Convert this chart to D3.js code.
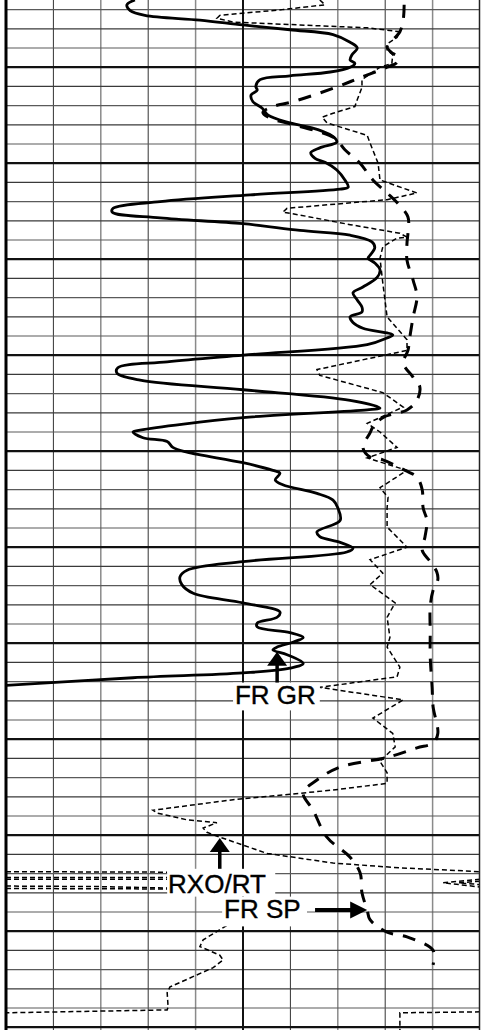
<!DOCTYPE html>
<html>
<head>
<meta charset="utf-8">
<script src="https://cdn.jsdelivr.net/npm/d3@7"></script>
<style>
  html, body { margin: 0; padding: 0; background: #fff; overflow: hidden; }
</style>
</head>
<body>
<div id="chart"></div>
<script>
// log track: depth in ft, curve values in chart divisions (0-10)
const topDepth = 4993;
const gridDepths = d3.range(4994, 5101, 2);
const gridDivs = d3.range(1, 10);
const darkDivs = [1, 3, 6, 8];

// gamma ray (solid)
const grCurve = [
  [4993.0,2.72],[4993.5,2.55],[4994.1,2.62],[4994.6,2.93],[4995.1,4.09],[4995.6,5.00],
  [4996.1,5.99],[4996.6,6.90],[4997.4,7.26],[4998.0,7.41],[4998.7,7.30],[4999.25,7.26],
  [4999.6,7.36],[5000.0,7.26],[5000.5,6.84],[5000.9,5.99],[5001.3,5.36],[5002.0,5.27],
  [5002.4,5.30],[5002.9,5.17],[5003.6,5.21],[5004.25,5.40],[5005.0,5.53],[5005.8,5.99],
  [5006.5,6.58],[5007.3,6.92],[5007.8,6.98],[5008.4,6.62],[5008.9,6.43],[5009.5,6.52],
  [5009.9,6.73],[5010.7,6.98],[5011.75,7.15],[5012.5,7.22],[5012.7,7.05],[5013.3,5.15],
  [5014.0,3.25],[5014.7,2.26],[5015.1,2.24],[5015.7,3.25],[5016.3,5.00],[5017.0,6.20],
  [5017.5,7.26],[5018.2,7.72],[5018.8,7.78],[5019.6,7.68],[5019.9,7.64],[5020.4,7.78],
  [5021.1,7.89],[5021.9,7.83],[5022.9,7.53],[5023.5,7.32],[5024.25,7.41],[5025.0,7.51],
  [5025.5,7.51],[5026.0,7.26],[5026.6,7.32],[5027.2,7.53],[5027.9,8.16],[5028.2,8.04],
  [5028.9,7.62],[5030.0,5.00],[5030.7,3.40],[5031.3,2.36],[5031.85,2.34],[5032.6,2.83],
  [5033.6,5.00],[5034.7,7.26],[5035.5,7.89],[5035.7,7.62],[5036.5,5.00],[5037.8,2.83],
  [5038.0,2.68],[5038.6,2.89],[5039.0,3.40],[5039.6,3.52],[5040.1,3.82],[5041.2,5.00],
  [5042.0,5.63],[5042.3,5.78],[5043.0,5.68],[5043.5,5.84],[5044.4,6.56],[5045.1,6.90],
  [5045.9,7.00],[5047.2,7.05],[5048.4,6.56],[5048.9,6.62],[5049.5,7.05],[5050.1,7.32],
  [5050.5,7.19],[5051.5,5.00],[5052.4,3.82],[5053.1,3.67],[5053.9,3.71],[5054.8,3.95],
  [5055.8,5.00],[5056.75,5.78],[5057.3,5.72],[5057.9,5.30],[5058.3,5.30],[5058.9,5.99],
  [5059.4,6.27],[5059.9,6.05],[5060.4,5.72],[5060.7,5.63],[5061.2,5.93],[5062.1,6.27],
  [5062.6,5.99],[5063.1,5.00],[5063.6,2.68],[5064.4,0.00]
];

// RXO/RT ratio (fine dashes)
const rxoCurve = [
  [4993.0,6.62],[4993.5,6.73],[4994.0,5.84],[4994.6,4.51],[4994.9,4.45],[4995.3,4.79],
  [4995.6,6.20],[4995.9,7.62],[4996.3,8.31],[4996.9,8.25],[4997.5,8.06],[4998.2,8.04],
  [4998.7,8.16],[4999.6,8.14],[5000.0,7.89],[5001.3,7.51],[5002.1,7.51],[5003.4,7.41],
  [5004.1,7.36],[5004.8,6.90],[5005.2,6.67],[5005.8,6.77],[5007.1,7.62],[5007.9,7.68],
  [5010.0,7.85],[5011.75,7.89],[5013.1,8.67],[5013.8,8.04],[5014.7,5.93],[5015.1,5.84],
  [5015.4,6.20],[5016.4,7.26],[5017.3,8.31],[5017.7,8.46],[5017.8,8.25],[5018.7,7.95],
  [5019.9,7.89],[5022.5,7.95],[5026.0,8.04],[5028.4,8.46],[5029.5,8.46],[5031.5,6.56],
  [5032.1,6.62],[5033.9,7.95],[5035.4,8.38],[5037.1,7.62],[5038.0,7.89],[5039.6,8.25],
  [5040.7,7.62],[5042.0,8.46],[5043.8,7.89],[5044.8,8.06],[5045.9,8.04],[5047.9,8.04],
  [5050.0,8.46],[5051.3,7.68],[5052.7,7.95],[5053.9,7.68],[5055.8,8.21],[5057.3,8.04],
  [5059.4,8.10],[5060.4,8.04],[5062.5,8.31],[5063.5,8.25],[5064.6,6.62],[5065.9,8.38],
  [5067.8,7.74],[5069.4,8.16],[5070.8,8.21],[5072.0,7.95],[5072.3,7.89],[5073.5,8.04],
  [5074.6,8.04],[5075.3,6.90],[5076.3,4.79],[5077.4,3.10],[5077.7,3.19],[5078.4,3.82],
  [5078.7,4.45],[5079.25,4.16],[5079.7,4.24],[5080.2,4.51],[5081.9,5.51],[5082.9,6.90],
  [5083.4,8.31],[5083.8,10.0]
];
// RXO/RT wrapped back onto the track (backup traces)
const rxoWrapLeft = [
  [[5083.8,0],[5083.85,3.4]],
  [[5084.4,0],[5084.4,3.4]],
  [[5084.6,0],[5084.6,3.4]],
  [[5085.3,0],[5085.35,1.9],[5085.5,3.4]],
  [[5085.55,0],[5085.6,3.4]]
];
const rxoWrapRight = [
  [[5084.6,10],[5084.95,9.22],[5085.4,10]],
  [[5084.8,10],[5084.95,9.55],[5085.15,10]]
];
const rxoLower = [
  [5088.6,4.95],[5089.4,4.66],[5090.9,4.16],[5091.6,4.09],[5092.5,4.51],[5093.0,4.58],
  [5093.8,4.37],[5095.8,3.46],[5096.4,3.40],[5097.9,3.42],[5098.2,3.40],[5098.5,0]
];
const rxoBottomWrap = [[5098.4,10],[5098.5,8.31],[5100.3,8.31]];

// spontaneous potential (heavy dashes)
const spCurve = [
  [4993.5,8.40],[4995.1,8.38],[4996.3,8.31],[4996.9,8.21],[4997.9,8.04],[4998.5,8.14],
  [4998.9,8.27],[4999.5,8.25],[5000.0,8.04],[5001.1,7.47],[5002.2,6.90],[5003.6,6.05],
  [5004.1,5.63],[5004.7,5.42],[5005.3,5.57],[5005.9,5.99],[5006.6,6.52],[5007.4,6.94],
  [5008.6,7.15],[5010.0,7.47],[5011.75,7.74],[5013.1,8.04],[5014.1,8.25],[5015.6,8.48],
  [5017.3,8.48],[5018.3,8.46],[5020.1,8.46],[5022.2,8.59],[5023.9,8.67],[5026.0,8.59],
  [5028.1,8.52],[5029.5,8.48],[5030.8,8.38],[5032.3,8.59],[5033.3,8.73],[5034.7,8.67],
  [5035.7,8.46],[5036.5,7.95],[5037.5,7.74],[5038.1,7.68],[5039.6,7.53],[5040.6,7.68],
  [5040.9,7.95],[5042.0,8.42],[5042.7,8.67],[5044.0,8.78],[5045.9,8.80],[5047.2,8.88],
  [5048.9,8.84],[5050.3,8.78],[5051.5,8.95],[5052.6,9.09],[5053.4,9.11],[5054.5,9.01],
  [5056.2,8.95],[5058.9,8.95],[5061.4,8.95],[5064.6,8.99],[5066.6,9.01],[5069.4,9.11],
  [5070.4,9.01],[5070.9,8.67],[5071.9,8.04],[5072.9,7.05],[5074.25,6.56],[5075.6,6.27],
  [5077.4,6.48],[5080.2,6.77],[5082.3,7.26],[5083.9,7.47],[5086.0,7.51],[5087.8,7.62],
  [5088.8,7.68],[5090.1,8.04],[5090.6,8.46],[5092.0,9.01],[5093.5,9.01]
];

// curve labels: text baseline anchor + white box (value range, depth range)
const labels = [
  { text: "FR GR",  value: 4.83, depth: 5066.3, box: [4.79, 6.62, 5064.1, 5067.0] },
  { text: "RXO/RT", value: 3.42, depth: 5086.0, box: [3.40, 5.68, 5083.5, 5086.4] },
  { text: "FR SP",  value: 4.60, depth: 5088.6, box: [4.56, 6.35, 5086.4, 5089.5] }
];
const upArrows = [
  { value: 5.72, tip: 5060.9, tail: 5064.1 },
  { value: 4.51, tip: 5080.3, tail: 5083.5 }
];
const rightArrows = [ { depth: 5087.8, tail: 6.52, tip: 7.62 } ];

const width = 481, height = 1030;
const x = d3.scaleLinear().domain([0, 10]).range([6, 480]);
const y = d3.scaleLinear().domain([topDepth, topDepth + height / 9.6]).range([0, height]);

const svg = d3.select("#chart").append("svg")
  .attr("width", width).attr("height", height)
  .style("display", "block");

svg.append("rect").attr("width", width).attr("height", height).attr("fill", "#fff");

svg.append("clipPath").attr("id", "track")
  .append("rect").attr("x", x(0)).attr("y", 0).attr("width", x(10) - x(0)).attr("height", height);

// grid
const grid = svg.append("g");
grid.selectAll("line.v")
  .data(gridDivs.filter(d => d !== 5))
  .join("line")
  .attr("x1", d => x(d)).attr("x2", d => x(d))
  .attr("y1", 0).attr("y2", height)
  .attr("stroke", d => darkDivs.includes(d) ? "#333" : "#8a8a8a")
  .attr("stroke-width", d => darkDivs.includes(d) ? 1 : 1.5);

grid.selectAll("line.h")
  .data(gridDepths.filter(d => d % 10 !== 0))
  .join("line")
  .attr("x1", x(0)).attr("x2", x(10))
  .attr("y1", d => y(d)).attr("y2", d => y(d))
  .attr("stroke", (d, i) => i % 2 ? "#3a3a3a" : "#5a5a5a")
  .attr("stroke-width", 1.2);

grid.selectAll("line.hh")
  .data(gridDepths.filter(d => d % 10 === 0))
  .join("line")
  .attr("x1", x(0)).attr("x2", x(10))
  .attr("y1", d => y(d)).attr("y2", d => y(d))
  .attr("stroke", "#111")
  .attr("stroke-width", 2.2);

grid.append("line")
  .attr("x1", x(5)).attr("x2", x(5)).attr("y1", 0).attr("y2", height)
  .attr("stroke", "#111").attr("stroke-width", 2);

// curves
const line = d3.line().x(d => x(d[1])).y(d => y(d[0]));
const smooth = d3.line().x(d => x(d[1])).y(d => y(d[0])).curve(d3.curveCatmullRom.alpha(0.5));
const curves = svg.append("g").attr("clip-path", "url(#track)").attr("fill", "none");

const rxoStyle = sel => sel.attr("stroke", "#000").attr("stroke-width", 1.5).attr("stroke-dasharray", "5,3");
curves.append("path").attr("d", line(rxoCurve)).call(rxoStyle);
curves.append("path").attr("d", line(rxoLower)).call(rxoStyle);
curves.append("path").attr("d", line(rxoBottomWrap)).call(rxoStyle);
curves.selectAll("path.wl").data(rxoWrapLeft.concat(rxoWrapRight)).join("path")
  .attr("d", d => line(d)).call(rxoStyle);

curves.append("path").attr("d", smooth(spCurve))
  .attr("stroke", "#000").attr("stroke-width", 3)
  .attr("stroke-dasharray", "13,10");

curves.append("path").attr("d", smooth(grCurve))
  .attr("stroke", "#000").attr("stroke-width", 2.8)
  .attr("stroke-linejoin", "round");

// labels
const ann = svg.append("g");
ann.selectAll("rect").data(labels).join("rect")
  .attr("x", d => x(d.box[0])).attr("width", d => x(d.box[1]) - x(d.box[0]))
  .attr("y", d => y(d.box[2])).attr("height", d => y(d.box[3]) - y(d.box[2]))
  .attr("fill", "#fff");
ann.selectAll("text").data(labels).join("text")
  .attr("x", d => x(d.value)).attr("y", d => y(d.depth))
  .attr("font-family", "'Liberation Sans', Arial, sans-serif")
  .attr("font-size", 26)
  .attr("fill", "#000")
  .attr("stroke", "#000").attr("stroke-width", 0.4)
  .text(d => d.text);

upArrows.forEach(a => {
  const cx = x(a.value), t = y(a.tip);
  ann.append("line").attr("x1", cx).attr("x2", cx).attr("y1", t + 12).attr("y2", y(a.tail))
    .attr("stroke", "#000").attr("stroke-width", 3.5);
  ann.append("path").attr("d", `M${cx},${t}L${cx - 10},${t + 14}L${cx + 10},${t + 14}Z`).attr("fill", "#000");
});
rightArrows.forEach(a => {
  const cy = y(a.depth), t = x(a.tip);
  ann.append("line").attr("x1", x(a.tail)).attr("x2", t - 14).attr("y1", cy).attr("y2", cy)
    .attr("stroke", "#000").attr("stroke-width", 4);
  ann.append("path").attr("d", `M${t},${cy}L${t - 17},${cy - 8.5}L${t - 17},${cy + 8.5}Z`).attr("fill", "#000");
});

// track borders
svg.append("line").attr("x1", x(0)).attr("x2", x(0)).attr("y1", 0).attr("y2", height)
  .attr("stroke", "#000").attr("stroke-width", 3);
svg.append("line").attr("x1", x(10) - 0.5).attr("x2", x(10) - 0.5).attr("y1", 0).attr("y2", height)
  .attr("stroke", "#222").attr("stroke-width", 1.5);
</script>
</body>
</html>
